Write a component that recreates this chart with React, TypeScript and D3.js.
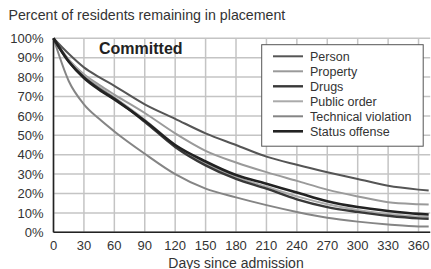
import * as React from 'react'
import * as d3 from 'd3'

const days = [0, 15, 30, 45, 60, 90, 120, 150, 180, 210, 240, 270, 300, 330, 360, 370]

const person = [100, 92, 85, 80, 75.5, 66, 58.5, 51, 45, 39, 34.8, 31, 27.5, 24, 22, 21.5]
const property = [100, 89, 81.5, 76, 71, 61.5, 51, 42, 36, 31, 26.5, 22, 18.5, 15.5, 14.5, 14.3]
const drugs = [100, 88, 80, 74, 69, 57, 44, 34.5, 27.5, 22.5, 17, 13, 10.5, 8.5, 7.2, 7]
const publicOrder = [100, 89, 81, 75, 69.5, 58, 45, 35.5, 28.5, 23.5, 18.5, 14.5, 11.5, 9.5, 8.2, 8]
const technical = [100, 78, 66, 58.5, 52, 40.5, 30, 22.5, 18, 14, 10.5, 7.5, 5.5, 4, 3, 3]
const status = [100, 88, 79.5, 73.5, 68.5, 57.5, 45, 36.5, 29.5, 25, 20.5, 16, 13, 11, 9.5, 9.2]

const seriesNames = ['Person', 'Property', 'Drugs', 'Public order', 'Technical violation', 'Status offense']
const seriesValues = [person, property, drugs, publicOrder, technical, status]
const seriesColors = ['#555', '#9a9a9a', '#383838', '#aaa', '#858585', '#222']
const seriesWidths = [2, 2, 2.4, 2, 2, 2.6]

const xTicks = [0, 30, 60, 90, 120, 150, 180, 210, 240, 270, 300, 330, 360]
const yTicks = [0, 10, 20, 30, 40, 50, 60, 70, 80, 90, 100]

const font = '"Liberation Sans", Arial, sans-serif'

const App = () => {
  const xMax = 371.5
  const x = d3.scaleLinear().domain([0, xMax]).range([53.5, 430.2])
  const y = d3.scaleLinear().domain([0, 100]).range([232.3, 38.3])

  const line = d3.line<[number, number]>()
    .x(d => x(d[0]))
    .y(d => y(d[1]))
    .curve(d3.curveMonotoneX)

  // draw order: lighter lines under the dark ones
  const order = [1, 3, 4, 0, 2, 5]

  return (
    <div style={{ position: 'fixed', left: 0, top: 0 }}>
      <svg width={431} height={269} style={{ display: 'block', background: '#fff' }} fontFamily={font}>
        <text x={8.5} y={19.5} fontSize={14.2} fill="#333">Percent of residents remaining in placement</text>

        {/* grid */}
        {yTicks.map(t => (
          <line key={'gy' + t} x1={x(0)} x2={x(xMax)} y1={y(t)} y2={y(t)} stroke="#c4c4c4" strokeWidth={1.5} />
        ))}
        {xTicks.map(t => (
          <line key={'gx' + t} x1={x(t)} x2={x(t)} y1={y(0)} y2={y(100)} stroke="#c4c4c4" strokeWidth={1.5} />
        ))}

        {/* curves */}
        {order.map(i => (
          <path
            key={seriesNames[i]}
            d={line(days.map((d, j) => [d, seriesValues[i][j]] as [number, number])) || ''}
            fill="none"
            stroke={seriesColors[i]}
            strokeWidth={seriesWidths[i]}
          />
        ))}

        {/* axes */}
        <line x1={x(0)} x2={x(0)} y1={y(0)} y2={y(100)} stroke="#222" strokeWidth={1.6} />
        <line x1={x(0)} x2={x(xMax)} y1={y(0)} y2={y(0)} stroke="#222" strokeWidth={1.6} />

        {yTicks.map(t => (
          <text key={'ty' + t} x={43.5} y={y(t)} dy="0.36em" textAnchor="end" fontSize={13} fill="#333">{t}%</text>
        ))}
        {xTicks.map(t => (
          <text key={'tx' + t} x={x(t)} y={250} textAnchor="middle" fontSize={13} fill="#333">{t}</text>
        ))}
        <text x={236} y={267.5} textAnchor="middle" fontSize={14} fill="#333">Days since admission</text>

        <text x={99} y={54} fontSize={16} fontWeight="bold" fill="#222">Committed</text>

        {/* legend */}
        <rect x={261.7} y={44.7} width={161.5} height={101.5} fill="#fff" stroke="#555" strokeWidth={1} />
        {seriesNames.map((n, i) => (
          <g key={'lg' + n} transform={`translate(0, ${56.3 + i * 15})`}>
            <line x1={273} x2={303} y1={0} y2={0} stroke={seriesColors[i]} strokeWidth={seriesWidths[i]} />
            <text x={310} y={0} dy="0.36em" fontSize={12.5} fill="#333">{n}</text>
          </g>
        ))}
      </svg>
    </div>
  )
}

export default App
